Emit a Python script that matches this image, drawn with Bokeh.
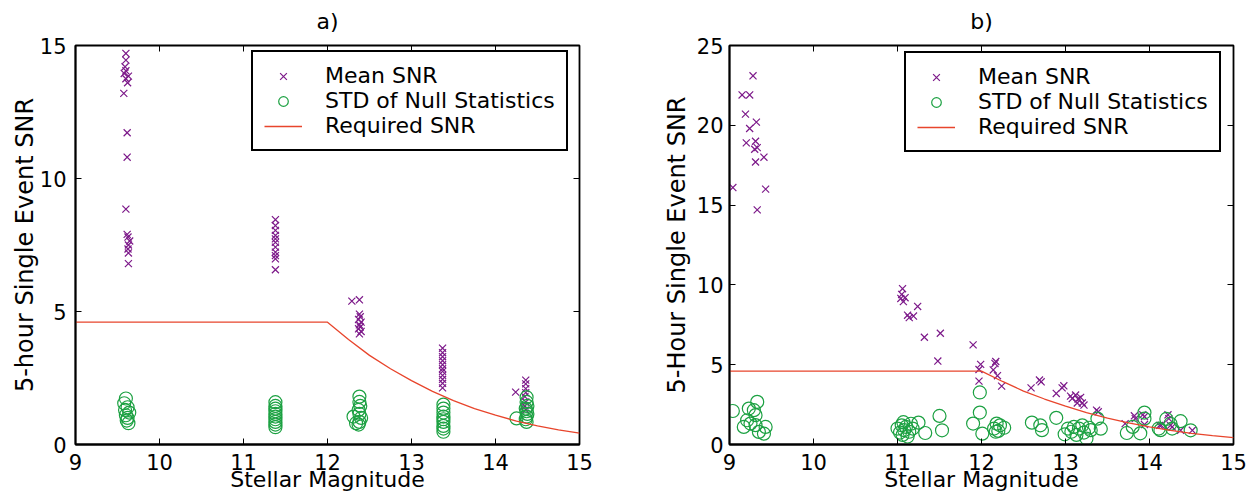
from bokeh.plotting import figure
from bokeh.models import (Legend, LegendItem, LinearAxis, FixedTicker, Range1d)
from bokeh.layouts import row
from bokeh.embed import file_html
from bokeh.resources import INLINE

# ---------------- data ----------------
x_ticks = [9, 10, 11, 12, 13, 14, 15]
a_y_ticks = [0, 5, 10, 15]
b_y_ticks = [0, 5, 10, 15, 20, 25]

# required SNR curve (shared by both panels)
req_mag = [9, 12, 12.25, 12.5, 12.75, 13, 13.25, 13.5, 13.75, 14, 14.25, 14.5, 14.75, 15]
req_snr = [4.6, 4.6, 3.95, 3.35, 2.85, 2.4, 2.0, 1.65, 1.35, 1.1, 0.88, 0.7, 0.55, 0.43]

# panel a) mean SNR
a_mean_mag = [9.60, 9.60, 9.59, 9.60, 9.58, 9.63, 9.60, 9.62, 9.575, 9.615, 9.615, 9.60,
              9.615, 9.625, 9.645, 9.63, 9.625, 9.63, 9.63,
              11.38, 11.38, 11.38, 11.38, 11.38, 11.38, 11.38, 11.38, 11.38, 11.38, 11.38,
              12.29, 12.38, 12.38, 12.39, 12.37, 12.40, 12.38, 12.39, 12.37, 12.40, 12.38,
              13.37, 13.37, 13.37, 13.37, 13.37, 13.37, 13.37, 13.37, 13.37, 13.37, 13.37,
              14.24, 14.36, 14.36, 14.36, 14.36, 14.35, 14.36, 14.35, 14.36]
a_mean_snr = [14.7, 14.45, 14.2, 14.05, 13.95, 13.85, 13.75, 13.6, 13.2, 11.72, 10.8, 8.85,
              7.9, 7.8, 7.65, 7.5, 7.35, 7.2, 6.8,
              8.45, 8.23, 8.05, 7.86, 7.73, 7.6, 7.42, 7.23, 7.1, 6.98, 6.57,
              5.39, 5.44, 4.9, 4.8, 4.7, 4.6, 4.5, 4.42, 4.35, 4.25, 4.16,
              3.62, 3.45, 3.3, 3.15, 3.0, 2.85, 2.75, 2.6, 2.45, 2.3, 2.13,
              1.97, 2.42, 2.28, 2.1, 1.95, 1.8, 1.6, 1.45, 1.3]

# panel a) STD of null statistics
a_std_mag = [9.60, 9.58, 9.62, 9.59, 9.64, 9.60, 9.62, 9.61, 9.63,
             11.38, 11.38, 11.38, 11.38, 11.38, 11.38, 11.38, 11.38, 11.38, 11.38,
             12.38, 12.38, 12.39, 12.37, 12.38, 12.40, 12.38, 12.37, 12.31, 12.34,
             13.38, 13.38, 13.38, 13.38, 13.38, 13.38, 13.38, 13.38, 13.38,
             14.37, 14.37, 14.38, 14.36, 14.37, 14.38, 14.37, 14.36, 14.37, 14.25]
a_std_snr = [1.73, 1.55, 1.4, 1.3, 1.2, 1.1, 1.0, 0.9, 0.8,
             1.59, 1.45, 1.35, 1.25, 1.15, 1.05, 0.95, 0.85, 0.75, 0.65,
             1.8, 1.6, 1.45, 1.3, 1.15, 1.0, 0.85, 0.75, 1.05, 0.8,
             1.5, 1.35, 1.2, 1.05, 0.95, 0.85, 0.7, 0.6, 0.48,
             1.78, 1.6, 1.45, 1.35, 1.25, 1.15, 1.05, 0.95, 0.85, 0.98]

# panel b) mean SNR
b_mean_mag = [9.04, 9.15, 9.24, 9.28, 9.19, 9.24, 9.32, 9.20, 9.31, 9.30, 9.33, 9.31, 9.41,
              9.43, 9.33,
              11.06, 11.05, 11.04, 11.09, 11.07, 11.12, 11.14, 11.19, 11.24, 11.32, 11.51,
              11.48, 11.90, 11.99, 11.97, 11.97, 12.17, 12.16, 12.14, 12.19, 12.24,
              12.59, 12.69, 12.71, 12.89, 12.98, 12.96, 13.06, 13.08, 13.12, 13.15, 13.18,
              13.20, 13.22, 13.14, 13.37, 13.39, 13.71, 13.82, 13.83, 13.92, 13.94, 13.94,
              14.12, 14.14, 14.22, 14.23, 14.25, 14.27, 14.37, 14.51]
b_mean_snr = [16.1, 21.9, 21.9, 23.1, 20.7, 19.8, 20.2, 18.9, 19.0, 18.5, 18.6, 17.7, 18.0,
              16.0, 14.7,
              9.76, 9.4, 9.15, 9.2, 8.95, 8.1, 7.95, 8.05, 8.65, 6.72, 6.97,
              5.23, 6.24, 5.02, 4.7, 3.97, 5.2, 5.08, 4.67, 4.31, 3.66,
              3.55, 4.04, 3.93, 3.2, 3.68, 3.55, 3.03, 2.88, 3.1, 2.85, 2.95,
              2.6, 2.47, 2.6, 2.15, 2.05, 1.31, 1.8, 1.62, 1.86, 1.75, 1.25,
              1.2, 1.2, 1.86, 1.62, 1.2, 1.1, 0.89, 0.89]

# panel b) STD of null statistics
b_std_mag = [9.04, 9.23, 9.33, 9.29, 9.31, 9.21, 9.17, 9.25, 9.31, 9.35, 9.43, 9.41,
             11.00, 11.03, 11.05, 11.06, 11.08, 11.10, 11.12, 11.14, 11.16, 11.07, 11.18,
             11.25, 11.33, 11.50, 11.53,
             11.98, 11.98, 11.90, 12.01, 12.15, 12.18, 12.20, 12.22, 12.27, 12.17,
             12.60, 12.70, 12.72, 12.89, 12.99,
             13.03, 13.07, 13.10, 13.13, 13.16, 13.20, 13.22, 13.25, 13.28, 13.30,
             13.42, 13.38, 13.73, 13.80, 13.89, 13.94, 13.94,
             14.11, 14.13, 14.20, 14.25, 14.27, 14.37, 14.49]
b_std_snr = [2.1, 2.25, 2.67, 2.15, 1.84, 1.52, 1.1, 1.31, 1.21, 0.79, 1.1, 0.68,
             1.0, 0.75, 1.2, 0.6, 0.9, 1.1, 0.5, 0.8, 1.3, 1.4, 1.0,
             1.37, 0.72, 1.79, 0.89,
             3.26, 2.0, 1.31, 0.68, 1.0, 1.31, 0.85, 1.2, 1.05, 0.8,
             1.37, 1.2, 0.9, 1.67, 0.64,
             1.0, 0.8, 1.1, 0.6, 1.0, 1.2, 0.75, 0.37, 1.05, 0.9,
             0.99, 1.62, 0.72, 1.1, 0.7, 2.0, 1.62,
             1.0, 0.9, 1.6, 1.3, 1.0, 1.46, 0.89]

# ---------------- style ----------------
FONT = "DejaVu Sans"
TICK_FS = "21px"
TXT_FS = "22px"
YLAB_FS = "24px"
PURPLE = "#7d1a8a"
GREEN = "#1ca142"
RED = "#e8452c"


def make_panel(title, ylabel, ymax, yticks, mean_mag, mean_snr, std_mag, std_snr,
               width, border_left, border_right, tick_standoff, ylab_standoff, legend_loc):
    p = figure(width=width, height=497, x_range=Range1d(9, 15), y_range=Range1d(0, ymax),
               output_backend="svg", toolbar_location=None,
               min_border_left=border_left, min_border_right=border_right,
               min_border_top=45, min_border_bottom=53)
    p.grid.visible = False
    p.outline_line_color = "black"
    p.outline_line_width = 1.8
    p.background_fill_color = "white"
    p.border_fill_color = "white"

    p.xaxis.ticker = FixedTicker(ticks=x_ticks)
    p.yaxis.ticker = FixedTicker(ticks=yticks)
    for ax in (p.xaxis[0], p.yaxis[0]):
        ax.major_tick_in = 6
        ax.major_tick_out = 0
        ax.minor_tick_in = 0
        ax.minor_tick_out = 0
        ax.axis_line_width = 1.8
        ax.axis_line_color = "black"
        ax.major_tick_line_width = 1
        ax.major_tick_line_color = "black"
        ax.major_label_text_font = FONT
        ax.major_label_text_font_size = TICK_FS
        ax.major_label_text_color = "black"
        ax.axis_label_text_font = FONT
        ax.axis_label_text_font_style = "normal"
        ax.axis_label_text_color = "black"
    p.xaxis.major_label_standoff = 9
    p.xaxis.axis_label = "Stellar Magnitude"
    p.xaxis.axis_label_text_font_size = TXT_FS
    p.xaxis.axis_label_standoff = -6
    p.yaxis.major_label_standoff = tick_standoff
    p.yaxis.axis_label = ylabel
    p.yaxis.axis_label_text_font_size = YLAB_FS
    p.yaxis.axis_label_standoff = ylab_standoff

    # top axis: inward ticks only, panel title as its label
    top = LinearAxis(ticker=FixedTicker(ticks=x_ticks),
                     major_label_overrides={t: "" for t in x_ticks},
                     major_label_text_color=None, major_label_standoff=0,
                     major_tick_in=6, major_tick_out=0, minor_tick_in=0, minor_tick_out=0,
                     major_tick_line_color="black", axis_line_color=None,
                     axis_label=title, axis_label_standoff=12,
                     axis_label_text_font=FONT, axis_label_text_font_size=TXT_FS,
                     axis_label_text_font_style="normal", axis_label_text_color="black")
    right = LinearAxis(ticker=FixedTicker(ticks=yticks),
                       major_label_overrides={t: "" for t in yticks},
                       major_label_text_color=None, major_label_standoff=0,
                       major_tick_in=6, major_tick_out=0, minor_tick_in=0, minor_tick_out=0,
                       major_tick_line_color="black", axis_line_color=None)
    p.add_layout(top, "above")
    p.add_layout(right, "right")

    r_mean = p.scatter(x=mean_mag, y=mean_snr, marker="x", size=10,
                       line_color=PURPLE, line_width=1.2)
    r_std = p.scatter(x=std_mag, y=std_snr, marker="circle", size=13,
                      line_color=GREEN, fill_color=None, line_width=1.2)
    r_req = p.line(x=req_mag, y=req_snr, line_color=RED, line_width=1.3)

    legend = Legend(items=[LegendItem(label="Mean SNR", renderers=[r_mean]),
                           LegendItem(label="STD of Null Statistics", renderers=[r_std]),
                           LegendItem(label="Required SNR", renderers=[r_req])],
                    location=legend_loc, margin=0, padding=11, spacing=0,
                    label_height=24, glyph_height=24, glyph_width=38, label_standoff=23,
                    label_width=200, border_line_color="black", border_line_width=2,
                    border_line_alpha=1.0,
                    label_text_font=FONT, label_text_font_size=TXT_FS,
                    label_text_color="black", background_fill_alpha=1.0)
    p.add_layout(legend)
    return p


pa = make_panel("a)", "5-hour Single Event SNR", 15, a_y_ticks,
                a_mean_mag, a_mean_snr, a_std_mag, a_std_snr,
                width=640, border_left=75, border_right=61,
                tick_standoff=9, ylab_standoff=-2, legend_loc=(176, 293))
pb = make_panel("b)", "5-Hour Single Event SNR", 25, b_y_ticks,
                b_mean_mag, b_mean_snr, b_std_mag, b_std_snr,
                width=608, border_left=89, border_right=15,
                tick_standoff=6, ylab_standoff=3, legend_loc=(175, 292))

layout = row(pa, pb)
open("out.html", "w").write(file_html(layout, INLINE))
